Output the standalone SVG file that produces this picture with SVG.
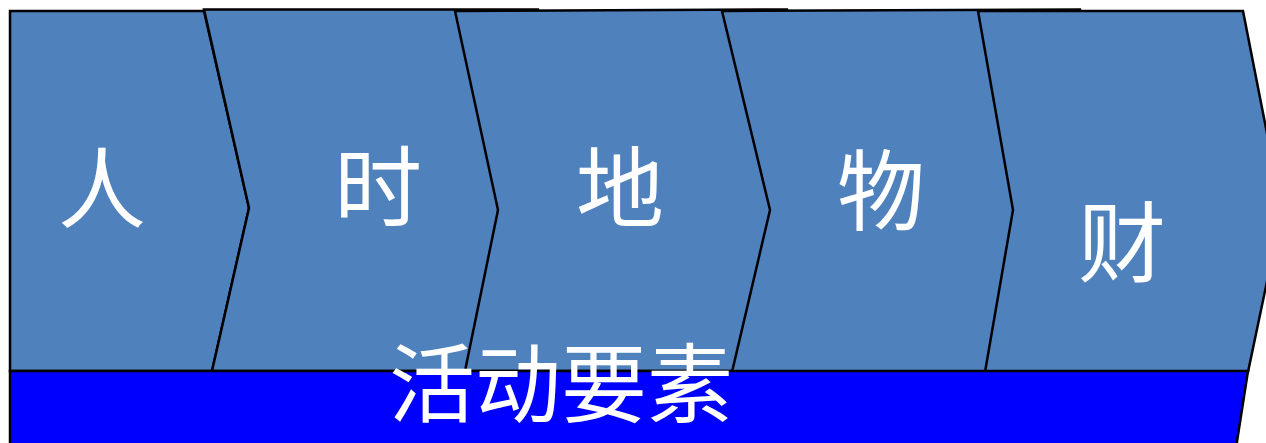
<svg xmlns="http://www.w3.org/2000/svg" width="1266" height="443" viewBox="0 0 1266 443">
<style>
.chev{fill:#4F81BD;stroke:#000;stroke-width:2.5;stroke-linejoin:miter}
.bar{fill:#0000FF;stroke:#000;stroke-width:2.5}
.lbl{font-family:"Noto Sans CJK SC","Noto Sans CJK JP",sans-serif;font-size:88px;fill:#fff;text-anchor:middle}
</style>
<rect width="1266" height="443" fill="#fff"/>
<g id="node-ren">
<polygon class="chev" points="10,11 204,11 249,208 212,371 10,371"/>
<text class="lbl" x="102" y="221">人</text>
</g>
<g id="node-shi">
<polygon class="chev" points="204,9.5 538,9.5 580,210 545,371 212,371 249,208"/>
<text class="lbl" x="378" y="219">时</text>
</g>
<g id="node-di">
<polygon class="chev" points="455,11 787,9.5 830,210 795,371 465,371 498,210"/>
<text class="lbl" x="620" y="220">地</text>
</g>
<g id="node-wu">
<polygon class="chev" points="722,11 1080,9.5 1120,210 1090,372 732,372 770,210"/>
<text class="lbl" x="881" y="223">物</text>
</g>
<g id="node-cai">
<polygon class="chev" points="978,11 1243,11 1282,210 1248,372 985,372 1013,210"/>
<text class="lbl" x="1122" y="275">财</text>
</g>
<g id="node-bar">
<polygon class="bar" points="10,371 1248,371 1231,480 10,480"/>
<text class="lbl" x="561" y="416" style="font-size:86px">活动要素</text>
</g>
<g id="connectors"></g>
</svg>
